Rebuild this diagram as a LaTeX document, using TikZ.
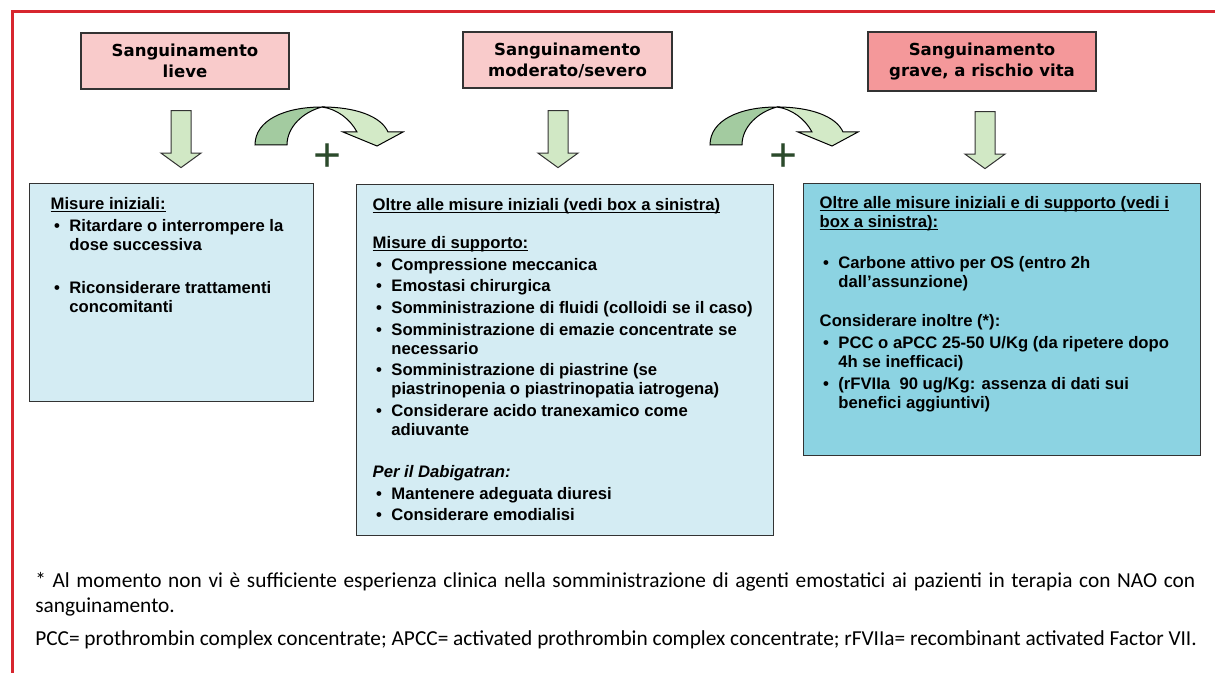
\documentclass[tikz,border=0pt]{standalone}
\usepackage{fontspec}
\setmainfont{Liberation Sans}
\newfontfamily\headfont{DejaVu Sans}
\newfontfamily\notefont{Carlito}
\usetikzlibrary{shapes.arrows}
\definecolor{frame}{HTML}{D7262E}
\definecolor{pinklight}{HTML}{F9CBCB}
\definecolor{pinkdark}{HTML}{F4989A}
\definecolor{arrowgreen}{HTML}{D1E8C5}
\definecolor{curvedark}{HTML}{A3CBA0}
\definecolor{curvelight}{HTML}{D3EAC7}
\definecolor{plusgreen}{HTML}{2B4A2B}
\definecolor{boxlight}{HTML}{D4ECF3}
\definecolor{boxdark}{HTML}{8CD3E2}
\definecolor{edge}{HTML}{333333}

% bullet line with hanging indent
\newcommand{\bitem}[1]{\par\hangindent=14pt\hangafter=1\noindent\makebox[14pt][l]{\hspace{2.5pt}\textbullet}#1\par}
% close underline
\newcommand{\ulin}[1]{\leavevmode\setbox0\hbox{#1}\rlap{\rule[-2pt]{\wd0}{0.9pt}}\box0}
% width, height, top pad, left pad, text
\newcommand{\boxbody}[5]{\begin{minipage}[c][#2][t]{#1}\fontsize{12.5pt}{14.25pt}\selectfont\bfseries
  \raggedright\parskip=2pt\leftskip=#4\vspace*{#3}\strut #5\end{minipage}}

\begin{document}
\begin{tikzpicture}[x=0.75pt,y=-0.75pt,
      headbox/.style={draw=edge,line width=1.1pt,align=center,minimum height=42pt,
        font=\headfont\bfseries\fontsize{12.4pt}{15.75pt}\selectfont},
      infobox/.style={draw=edge,line width=1.1pt,inner sep=0pt,anchor=north west},
      downarr/.style={single arrow,shape border rotate=270,draw=edge,line width=0.75pt,
        fill=arrowgreen,inner sep=7.125pt,minimum height=42.75pt,minimum width=29.25pt,
        single arrow head extend=7.5pt,single arrow tip angle=108},
      plus/.style={text=plusgreen,inner sep=0pt,font=\fontsize{36pt}{36pt}\selectfont},
      note/.style={anchor=north west,inner sep=0pt,
        font=\notefont\fontsize{16pt}{18.75pt}\selectfont}]
  \useasboundingbox (0,0) rectangle (1215,673);

  % frame
  \draw[frame,line width=2.25pt] (1215,12) -- (12,12) -- (12,673);

  % bleeding levels
  \node[headbox,fill=pinklight,minimum width=156pt] (lieve) at (185,61) {Sanguinamento\\lieve};
  \node[headbox,fill=pinklight,minimum width=156.75pt] (moderato) at (567.5,60) {Sanguinamento\\moderato/severo};
  \node[headbox,fill=pinkdark,minimum width=171pt,minimum height=44.25pt] (grave) at (982,61.5) {Sanguinamento\\grave, a rischio vita};

  \node[downarr] (arrA) at (181,135.5) {};
  \node[downarr] (arrB) at (558,135.5) {};
  \node[downarr] (arrC) at (985,136.5) {};

  % curved arrows
  \foreach \dx in {0,455}{
    \begin{scope}[xshift=\dx*0.75pt,draw=black,line width=0.75pt]
      \filldraw[fill=curvedark] (255,145) .. controls (255,120) and (285,107) .. (322,107)
        .. controls (303,112) and (287,127) .. (287,145) -- cycle;
      \filldraw[fill=curvelight] (322,107) .. controls (355,107) and (381,116) .. (388,132)
        -- (403,132) -- (377,146) -- (343,132) -- (357,132)
        .. controls (350,119) and (337,109) .. (322,107) -- cycle;
    \end{scope}
  }
  \node[plus] (plusA) at (328,158) {+};
  \node[plus] (plusB) at (784,158) {+};

  % measures
  \node[infobox,fill=boxlight] (boxA) at (29,183) {\boxbody{213pt}{163.5pt}{9.5pt}{15.75pt}{%
    \ulin{Misure iniziali:}
    \bitem{Ritardare o interrompere la\newline dose successiva}
    \vspace{16pt}
    \bitem{Riconsiderare trattamenti\newline concomitanti}}};

  \node[infobox,fill=boxlight] (boxB) at (356,184) {\boxbody{312.75pt}{263.25pt}{9.5pt}{12pt}{%
    \ulin{Oltre alle misure iniziali (vedi box a sinistra)}\par
    \vspace{12.2pt}
    \ulin{Misure di supporto:}
    \bitem{Compressione meccanica}
    \bitem{Emostasi chirurgica}
    \bitem{Somministrazione di fluidi (colloidi se il caso)}
    \bitem{Somministrazione di emazie concentrate se\newline necessario}
    \bitem{Somministrazione di piastrine (se\newline piastrinopenia o piastrinopatia iatrogena)}
    \bitem{Considerare acido tranexamico come\newline adiuvante}
    \vspace{15.2pt}
    \textit{Per il Dabigatran:}
    \bitem{Mantenere adeguata diuresi}
    \bitem{Considerare emodialisi}}};

  \node[infobox,fill=boxdark] (boxC) at (803,183) {\boxbody{297.75pt}{204pt}{8.8pt}{12pt}{%
    \ulin{Oltre alle misure iniziali e di supporto (vedi i}\newline\ulin{box a sinistra):}\par
    \vspace{14.5pt}
    \bitem{Carbone attivo per OS (entro 2h\newline dall’assunzione)}
    \vspace{13pt}
    Considerare inoltre (*):
    \bitem{PCC o aPCC 25-50 U/Kg (da ripetere dopo\newline 4h se inefficaci)}
    \bitem{(rFVIIa\ \ 90 ug/Kg: assenza di dati sui\newline benefici aggiuntivi)}}};

  % notes
  \node[note,text width=870pt,align=justify] (noteA) at (35,572) {* Al momento non vi è sufficiente esperienza clinica nella somministrazione di agenti emostatici ai pazienti in terapia con NAO con \mbox{sanguinamento.}};
  \node[note] (noteB) at (35,630) {PCC= prothrombin complex concentrate; APCC= activated prothrombin complex concentrate; rFVIIa= recombinant activated Factor VII.};
\end{tikzpicture}
\end{document}
